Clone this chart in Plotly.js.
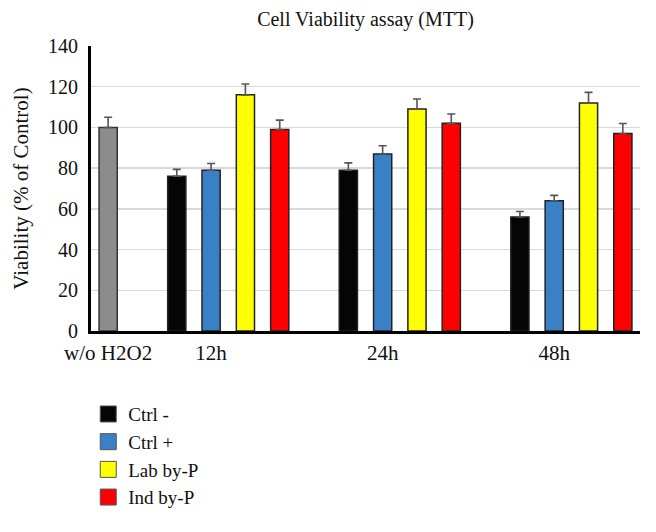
<!DOCTYPE html>
<html>
<head>
<meta charset="utf-8">
<script src="https://cdn.plot.ly/plotly-3.0.1.min.js"></script>
<style>html,body{margin:0;padding:0;background:#fff;}#chart{width:656px;height:532px;}</style>
</head>
<body>
<div id="chart"></div>
<script>
// ---- data ----
const baselineLabel = 'w/o H2O2';
const baselineValue = [100];
const baselineError = [5];

const timeLabels = ['12h', '24h', '48h'];
const seriesNames = ['Ctrl -', 'Ctrl +', 'Lab by-P', 'Ind by-P'];
const ctrlNeg = [76, 79, 56];
const ctrlNegErr = [3.4, 3.6, 2.7];
const ctrlPos = [79, 87, 64];
const ctrlPosErr = [3.3, 4.0, 2.6];
const labByP = [116, 109, 112];
const labByPErr = [5.3, 5.0, 5.2];
const indByP = [99, 102, 97];
const indByPErr = [4.6, 4.6, 4.9];

const yTicks = [0, 20, 40, 60, 80, 100, 120, 140];

// ---- styling ----
const seriesValues = [ctrlNeg, ctrlPos, labByP, indByP];
const seriesErrors = [ctrlNegErr, ctrlPosErr, labByPErr, indByPErr];
const seriesColors = ['#050505', '#3a80c6', '#ffff00', '#ff0000'];
const FONT = 'Liberation Serif';
const TXT = '#111111';

// slot layout: baseline bar, a gap, then groups of 4 bars separated by one empty slot
const slotsPerGroup = seriesNames.length + 1;
const firstGroupSlot = 2;
const groupStart = timeLabels.map((_, g) => firstGroupSlot + g * slotsPerGroup);
const totalSlots = groupStart[groupStart.length - 1] + seriesNames.length;

const barWidth = 0.53;
const errStyle = (arr) => ({type: 'data', array: arr, symmetric: false, arrayminus: arr.map(() => 0),
  color: '#555555', thickness: 1.6, width: 4});

const traces = [];
traces.push({
  type: 'bar', x: [0], y: baselineValue, width: barWidth, showlegend: false,
  marker: {color: '#8c8c8c', line: {color: '#333333', width: 1.5}},
  error_y: errStyle(baselineError), hoverinfo: 'y'
});
seriesNames.forEach((name, s) => {
  traces.push({
    type: 'bar', name: name,
    x: groupStart.map(g => g + s),
    y: seriesValues[s], width: barWidth, showlegend: false,
    marker: {color: seriesColors[s], line: {color: '#222222', width: 1.5}},
    error_y: errStyle(seriesErrors[s])
  });
});
// legend entries
seriesNames.forEach((name, s) => {
  traces.push({
    type: 'scatter', mode: 'markers', name: name, x: [null], y: [null],
    marker: {symbol: 'square', size: 16, color: seriesColors[s], line: {color: '#555555', width: 1}},
    hoverinfo: 'skip'
  });
});

const tickvals = [0].concat(groupStart.map(g => g + 1));
const ticktext = [baselineLabel].concat(timeLabels);

const layout = {
  width: 656, height: 532,
  margin: {l: 91, r: 16, t: 46, b: 201},
  paper_bgcolor: '#ffffff', plot_bgcolor: '#ffffff',
  font: {family: FONT, color: TXT, size: 20},
  title: {text: 'Cell Viability assay (MTT)', font: {family: FONT, size: 20, color: TXT},
    x: 0.5, xref: 'paper', xanchor: 'center', y: 1 - 19 / 532, yref: 'container', yanchor: 'middle'},
  barmode: 'overlay',
  showlegend: true,
  legend: {x: -0.005, xanchor: 'left', y: -0.225, yanchor: 'top', font: {family: FONT, size: 19, color: TXT},
    bgcolor: 'rgba(0,0,0,0)', tracegroupgap: 0},
  xaxis: {
    type: 'linear', range: [-0.5, totalSlots - 0.5], tickmode: 'array', tickvals: tickvals, ticktext: ticktext,
    showgrid: false, zeroline: false, showline: true, linecolor: '#000', linewidth: 2.5,
    ticks: 'outside', ticklen: 1, tickcolor: 'rgba(0,0,0,0)', tickfont: {family: FONT, size: 21, color: TXT}
  },
  yaxis: {
    range: [0, 140], tickmode: 'array', tickvals: yTicks,
    showgrid: true, gridcolor: '#d9d9d9', gridwidth: 1.5, zeroline: false,
    showline: true, linecolor: '#000', linewidth: 3,
    ticks: 'outside', ticklen: 6, tickcolor: 'rgba(0,0,0,0)', tickfont: {family: FONT, size: 20, color: TXT},
    title: {text: 'Viability (% of Control)', font: {family: FONT, size: 21, color: TXT}, standoff: 14}
  }
};

Plotly.newPlot('chart', traces, layout, {displayModeBar: false, staticPlot: true});
</script>
</body>
</html>
